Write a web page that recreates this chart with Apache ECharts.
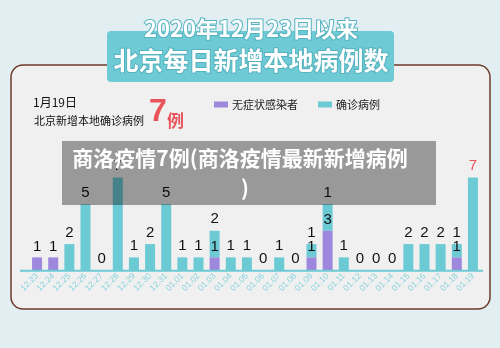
<!DOCTYPE html>
<html>
<head>
<meta charset="utf-8">
<script src="https://cdn.jsdelivr.net/npm/echarts@6/dist/echarts.min.js"></script>
<style>
  html, body { margin: 0; padding: 0; background: #e1eff3; }
  #chart { width: 500px; height: 348px; }
</style>
</head>
<body>
<div id="chart"></div>
<script>
// 日期
const dates = ['12.23', '12.24', '12.25', '12.26', '12.27', '12.28', '12.29', '12.30', '12.31',
  '01.01', '01.02', '01.03', '01.04', '01.05', '01.06', '01.07', '01.08', '01.09', '01.10',
  '01.11', '01.12', '01.13', '01.14', '01.15', '01.16', '01.17', '01.18', '01.19']
// 无症状感染者
const asymptomatic = [1, 1, 0, 0, 0, 0, 0, 0, 0, 0, 0, 1, 0, 0, 0, 0, 0, 1, 3, 0, 0, 0, 0, 0, 0, 0, 1, 0]
// 确诊病例
const confirmed = [0, 0, 2, 5, 0, 7, 1, 2, 5, 1, 1, 2, 1, 1, 0, 1, 0, 1, 2, 1, 0, 0, 0, 2, 2, 2, 1, 7]
// 确诊柱顶部标注文字
const confirmedLabels = ['', '', '2', '5', '0', '7', '1', '2', '5', '1', '1', '2', '1', '1', '0', '1', '0', '1', '1',
  '1', '0', '0', '0', '2', '2', '2', '1', '7']

const chart = echarts.init(document.getElementById('chart'))

const titleText = {
  fill: '#fff',
  stroke: '#55b3bf',
  lineWidth: 2,
  shadowColor: 'rgba(0,0,0,0.3)',
  shadowBlur: 3,
  shadowOffsetY: 2,
  fontFamily: 'Noto Sans CJK SC',
  textAlign: 'center',
  textVerticalAlign: 'middle'
}

chart.setOption({
  backgroundColor: '#e1eff3',
  animation: false,
  grid: { left: 29, right: 19, top: 164.3, bottom: 77.3 },
  legend: {
    left: 214,
    top: 99,
    padding: 0,
    itemWidth: 14,
    itemHeight: 6,
    itemGap: 20,
    icon: 'rect',
    textStyle: { fontSize: 11, color: '#222', fontFamily: 'Noto Sans CJK SC', padding: [0, 0, 0, -1] },
    data: ['无症状感染者', '确诊病例']
  },
  xAxis: {
    type: 'category',
    data: dates,
    axisLine: { show: false },
    axisTick: { show: false },
    axisLabel: {
      interval: 0,
      rotate: 45,
      fontSize: 8.5,
      color: '#86d3dd',
      margin: 4,
      fontFamily: 'Liberation Sans'
    }
  },
  yAxis: { type: 'value', min: 0, max: 8, show: false },
  series: [
    {
      name: '无症状感染者',
      type: 'bar',
      stack: 'total',
      barWidth: 10,
      data: asymptomatic,
      itemStyle: { color: '#9d88dd' },
      label: {
        show: true,
        position: 'top',
        distance: 3,
        fontSize: 15,
        color: '#111',
        fontFamily: 'Liberation Sans',
        formatter: p => (p.value > 0 ? p.value : '')
      },
      z: 3
    },
    {
      name: '确诊病例',
      type: 'bar',
      stack: 'total',
      barWidth: 10,
      data: confirmed.map((v, i) => (i === confirmed.length - 1
        ? { value: v, label: { color: '#e9545a' } }
        : v)),
      itemStyle: { color: '#6ccad5' },
      label: {
        show: true,
        position: 'top',
        distance: 4,
        fontSize: 15,
        color: '#111',
        fontFamily: 'Liberation Sans',
        formatter: p => confirmedLabels[p.dataIndex]
      },
      z: 2
    }
  ],
  graphic: [
    // 卡片背景
    {
      type: 'rect', z: -10, silent: true,
      shape: { x: 11, y: 65, width: 479, height: 244, r: 12 },
      style: { fill: '#f0f0f0', stroke: '#6d3b29', lineWidth: 1.5 }
    },
    // 标题框
    {
      type: 'rect', z: -5, silent: true,
      shape: { x: 107, y: 31, width: 287, height: 51, r: 4 },
      style: { fill: '#6ecad5' }
    },
    {
      type: 'text', z: 1, silent: true,
      style: Object.assign({ x: 251, y: 29, text: '2020年12月23日以来', fontSize: 22, fontWeight: 'bold' }, titleText)
    },
    {
      type: 'text', z: 1, silent: true,
      style: Object.assign({ x: 251, y: 60, text: '北京每日新增本地病例数', fontSize: 25, fontWeight: 'bold' }, titleText)
    },
    // 左上角说明
    {
      type: 'text', silent: true,
      style: { x: 33, y: 102, text: '1月19日', fontSize: 12, fill: '#111', fontFamily: 'Noto Sans CJK SC', textVerticalAlign: 'middle' }
    },
    {
      type: 'text', silent: true,
      style: { x: 34, y: 121, text: '北京新增本地确诊病例', fontSize: 11, fill: '#111', fontFamily: 'Noto Sans CJK SC', textVerticalAlign: 'middle' }
    },
    {
      type: 'text', silent: true,
      style: { x: 149, y: 128, text: '7', fontSize: 32, fontWeight: 'bold', fill: '#e9545a', fontFamily: 'Liberation Sans Narrow, Liberation Sans', textVerticalAlign: 'bottom' }
    },
    {
      type: 'text', silent: true,
      style: { x: 167, y: 129, text: '例', fontSize: 17, fontWeight: 'bold', fill: '#e9545a', fontFamily: 'Noto Sans CJK SC', textVerticalAlign: 'bottom' }
    },
    // 坐标轴线
    {
      type: 'line', z: 5, silent: true,
      shape: { x1: 20, y1: 270.7, x2: 483, y2: 270.7 },
      style: { stroke: '#6ccad5', lineWidth: 2 }
    },
    // 灰色遮罩标题
    {
      type: 'rect', z: 50, silent: true,
      shape: { x: 62, y: 141, width: 374, height: 64 },
      style: { fill: 'rgba(0,0,0,0.36)' }
    },
    {
      type: 'text', z: 51, silent: true,
      style: {
        x: 240, y: 158, text: '商洛疫情7例(商洛疫情最新新增病例', fontSize: 21, fontWeight: 'bold',
        fill: '#fff', fontFamily: 'Noto Sans CJK SC', textAlign: 'center', textVerticalAlign: 'middle'
      }
    },
    {
      type: 'text', z: 51, silent: true,
      style: {
        x: 245, y: 188, text: ')', fontSize: 21, fontWeight: 'bold',
        fill: '#fff', fontFamily: 'Noto Sans CJK SC', textAlign: 'center', textVerticalAlign: 'middle'
      }
    }
  ]
})
</script>
</body>
</html>
